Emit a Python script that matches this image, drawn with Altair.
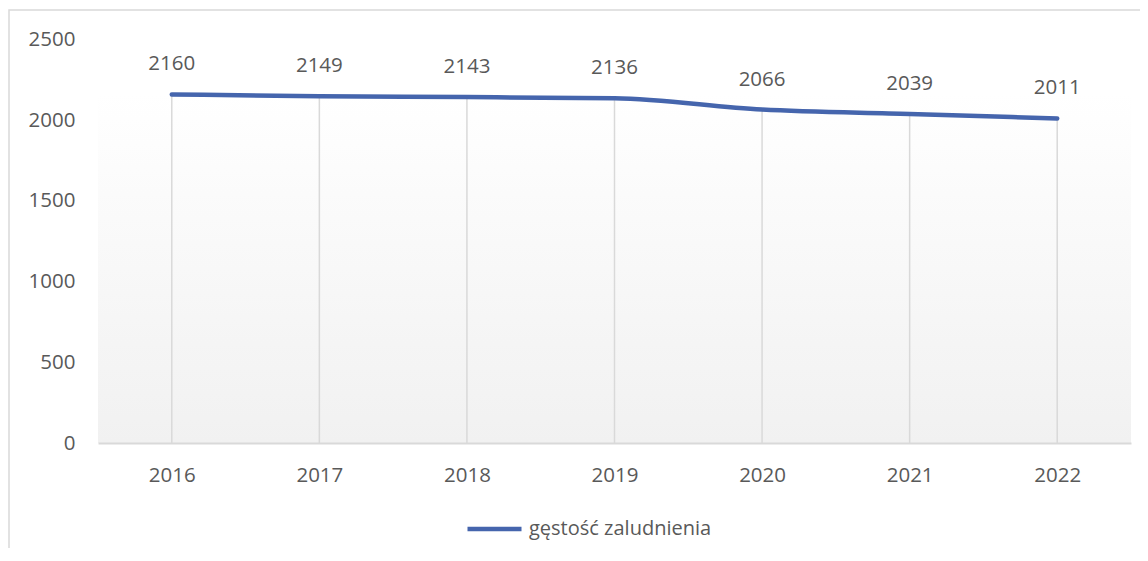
import altair as alt
import pandas as pd

years = ["2016", "2017", "2018", "2019", "2020", "2021", "2022"]
values = [2160, 2149, 2143, 2136, 2066, 2039, 2011]
series_name = "gęstość zaludnienia"
y_ticks = [0, 500, 1000, 1500, 2000, 2500]

df = pd.DataFrame({"rok": years, "wartosc": values, "seria": [series_name] * len(years)})

W = 1033
H = 403.5
FONT = "Open Sans"
GRAY = "#595959"
LINE = "#4565ad"

x_enc = alt.X("rok:O", scale=alt.Scale(type="point", padding=0.5),
              axis=alt.Axis(title=None, labelAngle=0, labelFont=FONT, labelFontSize=20.5,
                            labelColor=GRAY, labelPadding=22, ticks=False, zindex=1,
                            domainColor="#d9d9d9", domainWidth=2, grid=False))
y_scale = alt.Scale(domain=[0, 2500], nice=False, zero=True)
y_enc = alt.Y("wartosc:Q", scale=y_scale,
              axis=alt.Axis(title=None, values=y_ticks, format="d", labelFont=FONT,
                            labelFontSize=20.5, labelColor=GRAY, labelPadding=23,
                            ticks=False, domain=False, grid=False, zindex=1))

base = alt.Chart(df)

# outer chart frame (decorative)
frame = base.mark_rect(fill="white", stroke="#d9d9d9", strokeWidth=1.5).encode(
    x=alt.value(-89), x2=alt.value(1200), y=alt.value(-29.5), y2=alt.value(600)
).transform_filter(alt.datum.rok == "2016")

# plot area gradient
grad = base.mark_rect(
    fill=alt.Gradient(gradient="linear", x1=0, y1=0, x2=0, y2=1,
                      stops=[alt.GradientStop(color="#ffffff", offset=0),
                             alt.GradientStop(color="#f1f1f1", offset=1)])
).encode(
    x=alt.value(0), x2=alt.value(W), y=alt.datum(2167, scale=y_scale), y2=alt.datum(0)
).transform_filter(alt.datum.rok == "2016")

drops = base.mark_rule(color="#d9d9d9", strokeWidth=1.5).encode(
    x=x_enc, y=y_enc, y2=alt.datum(0)
)

line = base.mark_line(interpolate="monotone", strokeWidth=4.5, strokeCap="round").encode(
    x=x_enc, y=y_enc,
    color=alt.Color("seria:N", scale=alt.Scale(range=[LINE]),
                    legend=alt.Legend(title=None, orient="none", legendX=367, legendY=460,
                                      padding=0, symbolType="stroke", symbolSize=2916,
                                      symbolStrokeWidth=4.5, labelFont=FONT, labelLimit=400,
                                      labelFontSize=20, labelColor=GRAY, labelOffset=5,
                                      zindex=1))
)

labels = base.mark_text(dy=-30, font=FONT, fontSize=20.5, color=GRAY).encode(
    x=x_enc, y=y_enc, text="wartosc:Q"
)

chart = alt.layer(frame, grad, drops, line, labels).properties(
    width=W, height=H,
    autosize=alt.AutoSizeParams(type="none"),
    padding={"left": 90, "top": 31.5, "right": 9, "bottom": 105},
).configure_view(stroke=None).configure(background="white")

chart.save("out.html", embed_options={"renderer": "svg", "actions": False})
